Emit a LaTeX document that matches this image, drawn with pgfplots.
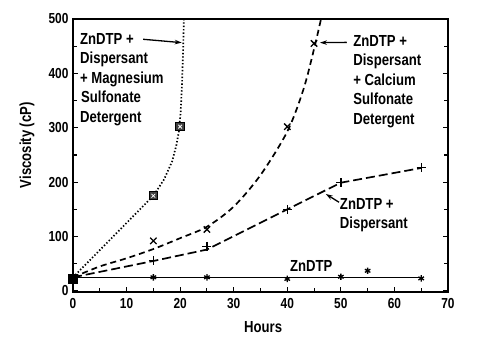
\documentclass[border=0pt]{standalone}
\usepackage{fontspec}
\setmainfont{Liberation Sans}[FakeStretch=0.82]
\usepackage{pgfplots}
\pgfplotsset{compat=1.18}
\usetikzlibrary{arrows.meta}
\begin{document}
\begin{tikzpicture}[font=\fontsize{16}{19.5}\selectfont\bfseries]
\useasboundingbox (-73pt,-60pt) rectangle (416pt,292pt);
\begin{axis}[
  scale only axis, width=375pt, height=273pt,
  xmin=0, xmax=70, ymin=-2, ymax=500,
  clip=false,
  xtick={0,10,...,70}, minor xtick={5,15,...,65},
  ytick={0,100,...,500}, minor ytick={50,150,...,450},
  xtick pos=left, ytick pos=both,
  tick align=inside,
  major tick length=5pt, minor tick length=4pt,
  every tick/.style={black, line width=1.1pt},
  axis line style={line width=1.7pt},
  /pgf/number format/assume math mode=true,
  tick label style={font=\fontsize{14.5}{16}\selectfont\bfseries},
  xticklabel style={yshift=-3pt},
  yticklabel style={xshift=-1pt},
  xlabel={Hours}, ylabel={Viscosity (cP)},
  xlabel style={at={(axis description cs:0.507,-0.128)}, anchor=center},
  ylabel style={at={(axis description cs:-0.1227,0.538)}, anchor=center, rotate=0},
  label style={font=\fontsize{16}{18}\selectfont\bfseries},
]
% ZnDTP + Dispersant + Magnesium Sulfonate Detergent (dotted)
\addplot[black, line width=1.7pt, dash pattern=on 1.4pt off 2pt] coordinates {
 (0,25)(5,75)(10,125)(13,155)(15,175)(17,205)(18.5,238)(19.3,268)(19.8,295)(20.1,330)(20.35,380)(20.55,440)(20.7,500)};
\addplot[only marks, mark=square*, mark size=4.2pt, mark options={draw=black, fill=black!75, line width=1pt}] coordinates {(15,175)(20,302)};
\addplot[only marks, mark=x, mark size=2.6pt, mark options={draw=white, line width=0.8pt}] coordinates {(15,175)(20,302)};
% ZnDTP + Dispersant + Calcium Sulfonate Detergent (dashed)
\addplot[black, line width=1.7pt, dash pattern=on 6pt off 4pt, smooth] coordinates {
 (0,25)(5,45)(10,60)(15,77)(20,97)(25,118)(30,155)(35,213)(40,293)(43,370)(45,445)(46.3,500)};
\addplot[only marks, mark=x, mark size=4.5pt, mark options={draw=black, line width=1.3pt}] coordinates {(15,92)(25,113)(40,302)(45,455)};
% ZnDTP + Dispersant (long dashed)
\addplot[black, line width=1.7pt, dash pattern=on 9pt off 4pt] coordinates {
 (0,25)(15,55)(25,76)(40,150)(50,199)(65,226)};
\addplot[only marks, mark=+, mark size=4.5pt, mark options={draw=black, line width=1.3pt}] coordinates {(15,56)(25,82)(40,150)(50,199)(65,227)};
% ZnDTP (solid)
\addplot[black, line width=1.6pt] coordinates {(0,25)(15,25)(25,25)(40,25)(50,25)(55,25)(65,25)};
\addplot[only marks, mark=asterisk, mark size=3.2pt, mark options={draw=black, line width=1.3pt}] coordinates {(15,25)(25,25)(40,22)(50,26)(55,37)(65,23)};
\addplot[only marks, mark=square*, mark size=4.5pt, mark options={draw=black, fill=black}] coordinates {(0,23)};
% labels
\node[anchor=north west, inner sep=0pt, align=left] at (axis cs:1.3,474) {ZnDTP +\\Dispersant\\+ Magnesium\\\hspace*{1pt}Sulfonate\\Detergent};
\node[anchor=north west, inner sep=0pt, align=left] at (axis cs:52.3,470.5) {ZnDTP +\\Dispersant\\+ Calcium\\Sulfonate\\Detergent};
\node[anchor=north west, inner sep=0pt, align=left] at (axis cs:49.8,171) {ZnDTP +\\Dispersant};
\node[anchor=north west, inner sep=0pt, align=left] at (axis cs:40.5,55.6) {ZnDTP};
\draw[line width=1.3pt, -{Stealth[length=7pt,width=4.5pt]}] (axis cs:13.1,462.7) -- (axis cs:20.3,456.5);
\draw[line width=1.3pt, -{Stealth[length=7pt,width=4.5pt]}] (axis cs:51.1,457) -- (axis cs:46.1,456.5);
\draw[line width=1.3pt, -{Stealth[length=7pt,width=4.5pt]}] (axis cs:49.66,163) -- (axis cs:47.2,178.2);
\end{axis}
\end{tikzpicture}
\end{document}
